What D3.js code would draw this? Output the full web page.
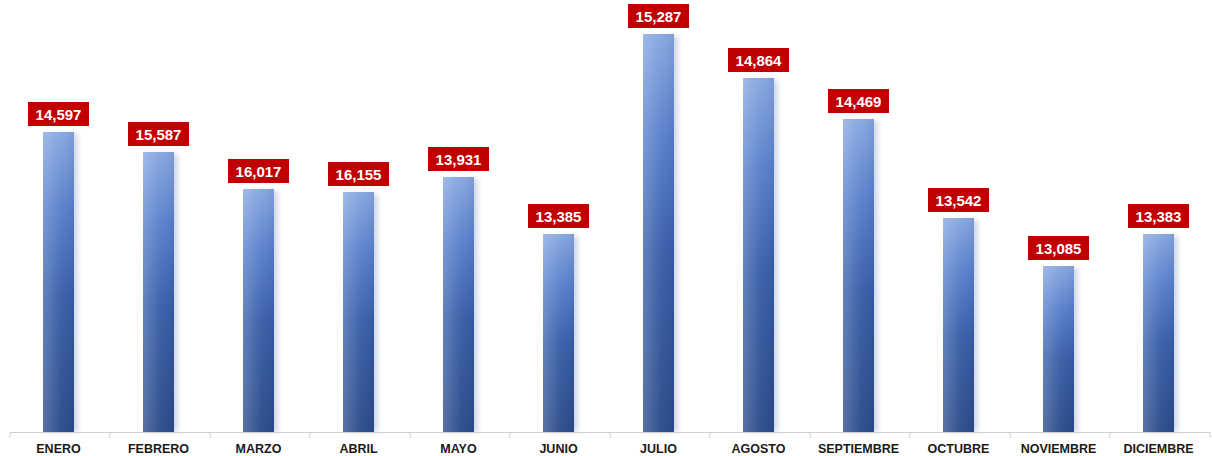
<!DOCTYPE html>
<html><head><meta charset="utf-8">
<script src="https://cdn.jsdelivr.net/npm/d3@7"></script>
<style>html,body{margin:0;padding:0;background:#fff;}svg{display:block;}</style>
</head><body>
<svg id="chart" width="1212" height="456"></svg>
<script>
const categories = ["ENERO","FEBRERO","MARZO","ABRIL","MAYO","JUNIO","JULIO","AGOSTO","SEPTIEMBRE","OCTUBRE","NOVIEMBRE","DICIEMBRE"];
// displayed labels
const labelValues = [14597,15587,16017,16155,13931,13385,15287,14864,14469,13542,13085,13383];
// bar heights as drawn (relative units)
const barValues = [300,280,243,240,255,198,398,354,313,214,166,198];
const yMax = 400;

const svg = d3.select("#chart");
const W = 1212, H = 456;
const margin = {left: 10, right: 2, top: 32, bottom: 24};
const baseY = H - margin.bottom; // 432

const x = d3.scaleBand().domain(categories).range([margin.left, W - margin.right]).paddingInner(0).paddingOuter(0);
const y = d3.scaleLinear().domain([0, yMax]).range([baseY, margin.top]);

const defs = svg.append("defs");
const gv = defs.append("linearGradient").attr("id","gv").attr("x1",0).attr("y1",0).attr("x2",0).attr("y2",1);
gv.append("stop").attr("offset","0%").attr("stop-color","#86a6e0");
gv.append("stop").attr("offset","25%").attr("stop-color","#5880cc");
gv.append("stop").attr("offset","55%").attr("stop-color","#375ea8");
gv.append("stop").attr("offset","100%").attr("stop-color","#2a4a8a");
const gh = defs.append("linearGradient").attr("id","gh").attr("x1",0).attr("y1",0).attr("x2",1).attr("y2",0);
gh.append("stop").attr("offset","0%").attr("stop-color","#ffffff").attr("stop-opacity",0.22);
gh.append("stop").attr("offset","60%").attr("stop-color","#ffffff").attr("stop-opacity",0.03);
gh.append("stop").attr("offset","100%").attr("stop-color","#000000").attr("stop-opacity",0.06);
const f = defs.append("filter").attr("id","sh").attr("x","-50%").attr("y","-10%").attr("width","200%").attr("height","120%");
f.append("feGaussianBlur").attr("stdDeviation",2.5);

const barW = 31;
const cx = d => x(d) + x.bandwidth()/2 - 1.5;

const data = categories.map((c,i)=>({c, v: barValues[i], lab: labelValues[i]}));

// shadow
svg.append("g").selectAll("rect").data(data).join("rect")
  .attr("x", d => cx(d.c) - barW/2 + 4).attr("y", d => y(d.v) + 2)
  .attr("width", barW).attr("height", d => baseY - y(d.v) - 2)
  .attr("fill", "#9aa8c8").attr("opacity", 0.45).attr("filter","url(#sh)");

const bars = svg.append("g");
bars.selectAll("rect.b").data(data).join("rect").attr("class","b")
  .attr("x", d => cx(d.c) - barW/2).attr("y", d => y(d.v))
  .attr("width", barW).attr("height", d => baseY - y(d.v))
  .attr("fill","url(#gv)");
bars.selectAll("rect.o").data(data).join("rect").attr("class","o")
  .attr("x", d => cx(d.c) - barW/2).attr("y", d => y(d.v))
  .attr("width", barW).attr("height", d => baseY - y(d.v))
  .attr("fill","url(#gh)");

// axis
const axis = d3.axisBottom(x).tickSize(0).tickFormat(d=>d);
const ag = svg.append("g").attr("transform",`translate(0,${baseY})`).call(axis);
ag.select(".domain").attr("stroke","#d0d0d0").attr("stroke-width",1);
ag.selectAll("text").attr("y", 12).attr("dy","0.71em").attr("fill","#1a1a1a")
  .style("font-family","'Liberation Sans', Arial, sans-serif").style("font-weight","bold").style("font-size","12.5px")
  .attr("x",-1.5);
// category boundary ticks
const bounds = categories.map(c => x(c)).concat([x(categories[categories.length-1]) + x.bandwidth()]);
svg.append("g").selectAll("line").data(bounds).join("line")
  .attr("x1", d=>d).attr("x2", d=>d).attr("y1", baseY).attr("y2", baseY+6)
  .attr("stroke","#d0d0d0").attr("stroke-width",1);

// labels
const fmt = d3.format(",");
const lg = svg.append("g");
const boxW = 61, boxH = 24;
lg.selectAll("rect").data(data).join("rect")
  .attr("x", d => cx(d.c) - boxW/2).attr("y", d => y(d.v) - 6 - boxH)
  .attr("width", boxW).attr("height", boxH).attr("fill","#c00000");
lg.selectAll("text").data(data).join("text")
  .attr("x", d => cx(d.c)).attr("y", d => y(d.v) - 6 - boxH/2 + 5.5)
  .attr("text-anchor","middle").attr("fill","#ffffff")
  .style("font-family","'Liberation Sans', Arial, sans-serif").style("font-weight","bold").style("font-size","15px")
  .text(d => fmt(d.lab));
</script>
</body></html>
